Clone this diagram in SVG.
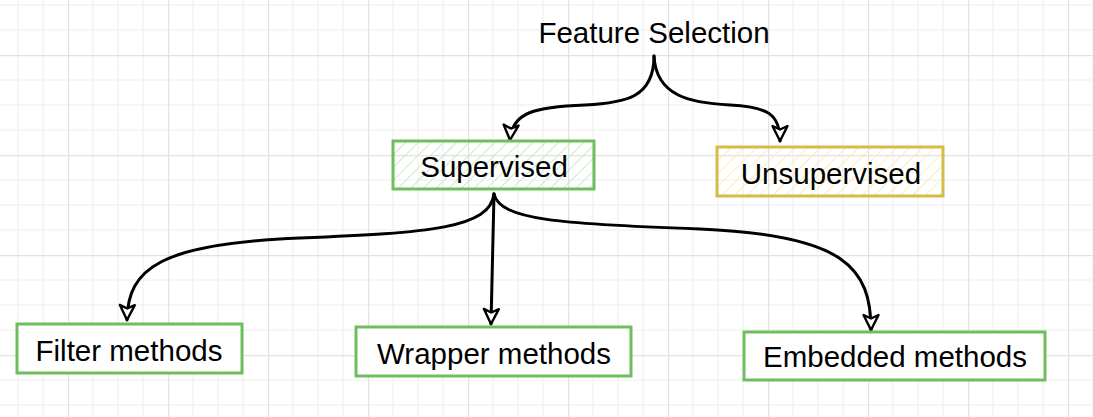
<svg xmlns="http://www.w3.org/2000/svg" width="1093" height="417" viewBox="0 0 1093 417">
<defs>
<pattern id="grid" patternUnits="userSpaceOnUse" x="68" y="55" width="100" height="100">
<path d="M25 0V100M50 0V100M75 0V100M0 25H100M0 50H100M0 75H100" stroke="#f3f3f3" stroke-width="1.5" fill="none"/>
<path d="M0.5 0V100M0 0.5H100" stroke="#e2e2e2" stroke-width="1.5" fill="none"/>
</pattern>
<pattern id="hatchG" patternUnits="userSpaceOnUse" width="9" height="9" patternTransform="rotate(45)">
<line x1="0" y1="0" x2="0" y2="9" stroke="#c8e7c1" stroke-width="1.8"/>
</pattern>
<pattern id="hatchY" patternUnits="userSpaceOnUse" width="9" height="9" patternTransform="rotate(45)">
<line x1="0" y1="0" x2="0" y2="9" stroke="#f9ecb0" stroke-width="1.8"/>
</pattern>
<marker id="arr" markerWidth="22" markerHeight="22" refX="17" refY="9" orient="auto" markerUnits="userSpaceOnUse">
<path d="M2 1.5 L17 9 L2 16.5 L5.5 9 Z" fill="#fff" stroke="#000" stroke-width="2.4" stroke-linejoin="round"/>
</marker>
<style>
.lbl{font-family:"Liberation Sans",Arial,sans-serif;font-size:29.5px;fill:#000;text-anchor:middle}
.g{stroke:#6cbf5c;stroke-width:3;fill:#fff}
.y{stroke:#d5bb48;stroke-width:3;fill:#fff}
.c{fill:none;stroke:#000;stroke-width:3;stroke-linecap:round;marker-end:url(#arr)}
</style>
</defs>
<rect width="1093" height="417" fill="#fff"/>
<rect width="1093" height="417" fill="url(#grid)"/>
<g id="connectors">
<path class="c" d="M654 56 C 654 98, 625 103, 585 105 C 535 107, 512 112, 510 140"/>
<path class="c" d="M654 56 C 656 96, 690 103, 730 105 C 768 107, 780 114, 780 141"/>
<path class="c" d="M494 194 C 490 228, 430 233, 300 238 C 160 244, 128 268, 127 320"/>
<path class="c" d="M494 194 L 491 324"/>
<path class="c" d="M494 194 C 500 220, 560 224, 700 229 C 845 235, 871 268, 871 330"/>
</g>
<g id="feature-selection">
<text class="lbl" x="654" y="43">Feature Selection</text>
</g>
<g id="supervised">
<rect x="393" y="141" width="201" height="48" fill="url(#hatchG)"/>
<rect class="g" x="393" y="141" width="201" height="48" style="fill:none"/>
<text class="lbl" x="494" y="177">Supervised</text>
</g>
<g id="unsupervised">
<rect x="717" y="147" width="226" height="49" fill="url(#hatchY)"/>
<rect class="y" x="717" y="147" width="226" height="49" style="fill:none"/>
<text class="lbl" x="831" y="184">Unsupervised</text>
</g>
<g id="filter">
<rect class="g" x="17" y="324" width="225" height="49"/>
<text class="lbl" x="129" y="361">Filter methods</text>
</g>
<g id="wrapper">
<rect class="g" x="356" y="327" width="275" height="49"/>
<text class="lbl" x="494" y="364">Wrapper methods</text>
</g>
<g id="embedded">
<rect class="g" x="744" y="332" width="301" height="48"/>
<text class="lbl" x="895" y="367">Embedded methods</text>
</g>
</svg>
